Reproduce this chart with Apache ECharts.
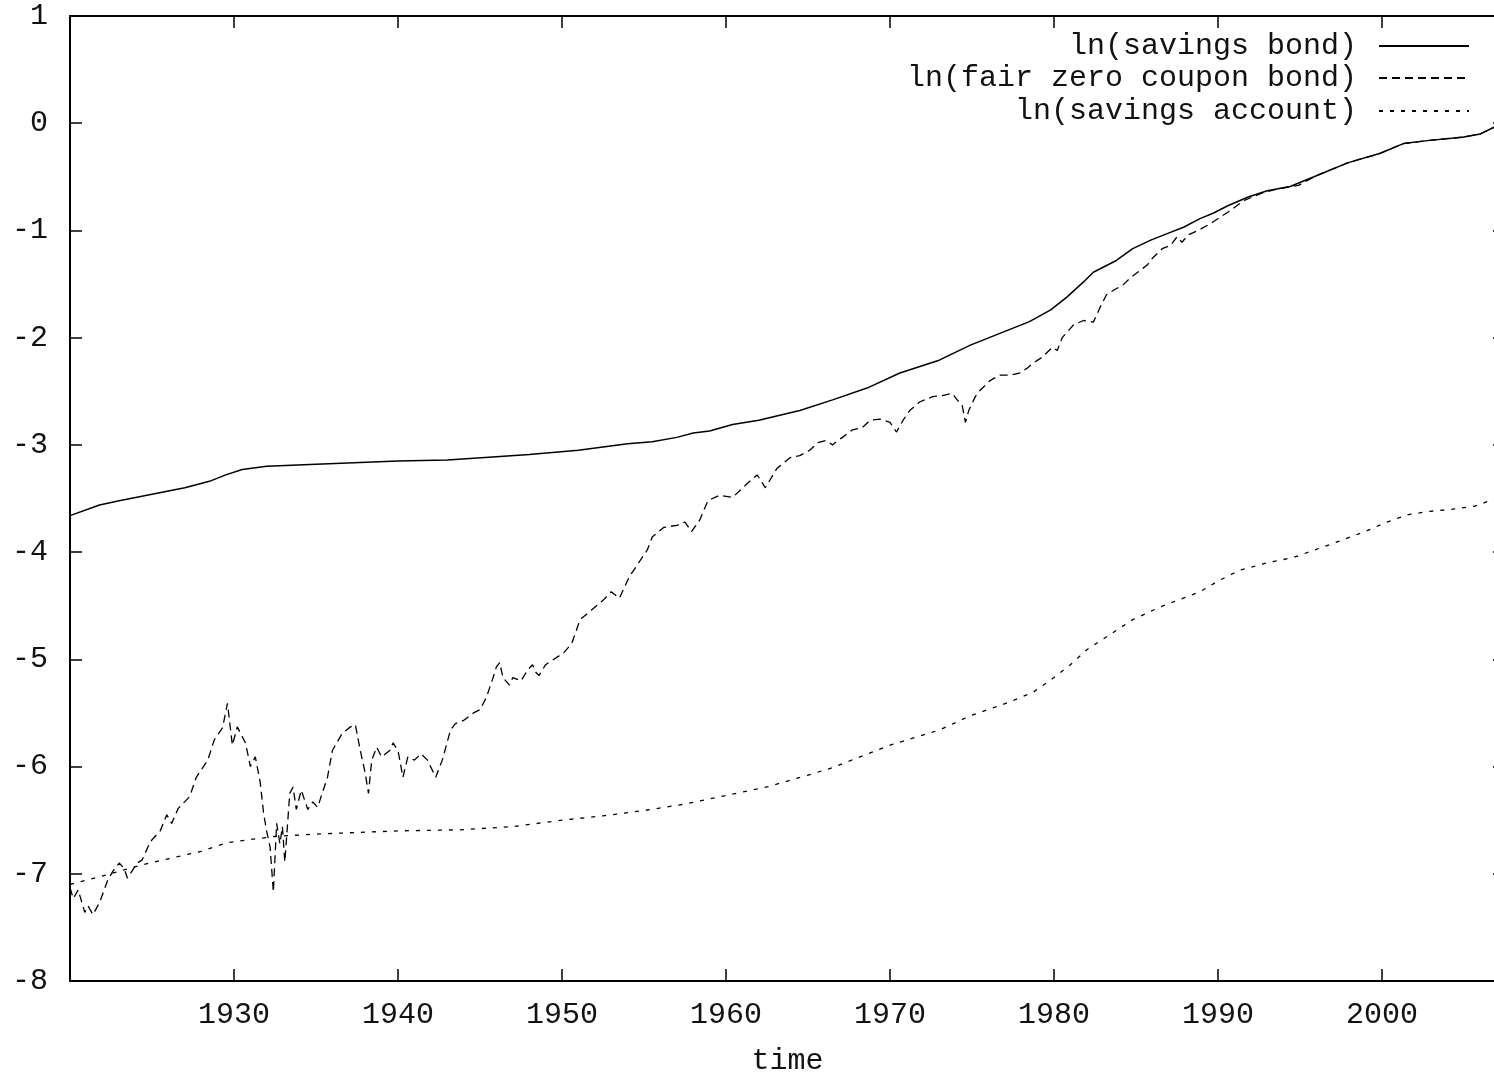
<!DOCTYPE html>
<html>
<head>
<meta charset="utf-8">
<script src="https://cdn.jsdelivr.net/npm/echarts@6/dist/echarts.min.js"></script>
<style>
html,body{margin:0;padding:0;background:#fff;}
#chart{width:1494px;height:1075px;}
</style>
</head>
<body>
<div id="chart"></div>
<script>
// ---- data ----
const xTicks = [1930, 1940, 1950, 1960, 1970, 1980, 1990, 2000];
const yTicks = [-8, -7, -6, -5, -4, -3, -2, -1, 0, 1];

const bondYears = [1920.0, 1921.8, 1923.0, 1925.0, 1927.0, 1928.5, 1929.5, 1930.5, 1932.0, 1935.0, 1940.0, 1943.0, 1946.0, 1948.0, 1951.0, 1954.0, 1955.5, 1957.0, 1958.0, 1959.0, 1960.4, 1962.0, 1964.5, 1966.5, 1968.6, 1970.6, 1973.0, 1974.9, 1976.7, 1978.5, 1979.8, 1980.8, 1981.8, 1982.4, 1983.8, 1984.8, 1985.9, 1986.9, 1987.9, 1988.9, 1989.7, 1990.6, 1991.8, 1993.0, 1994.4, 1996.0, 1997.9, 1999.9, 2001.3, 2002.9, 2004.9, 2006.0, 2006.8, 2007.5];
const bondValues = [-3.66, -3.56, -3.52, -3.46, -3.40, -3.34, -3.28, -3.23, -3.20, -3.18, -3.15, -3.14, -3.11, -3.09, -3.05, -2.99, -2.97, -2.93, -2.89, -2.87, -2.81, -2.77, -2.68, -2.58, -2.47, -2.33, -2.21, -2.07, -1.96, -1.85, -1.74, -1.62, -1.48, -1.39, -1.28, -1.17, -1.09, -1.03, -0.97, -0.89, -0.84, -0.77, -0.69, -0.63, -0.59, -0.49, -0.37, -0.28, -0.19, -0.16, -0.13, -0.10, -0.04, -0.02];

const zeroYears = [1920.0, 1920.2, 1920.5, 1920.9, 1921.1, 1921.4, 1921.8, 1922.3, 1922.6, 1923.0, 1923.3, 1923.5, 1924.1, 1924.4, 1924.9, 1925.5, 1925.9, 1926.2, 1926.6, 1927.3, 1927.7, 1928.4, 1928.8, 1929.3, 1929.6, 1929.9, 1930.2, 1930.7, 1931.0, 1931.3, 1931.6, 1931.8, 1932.0, 1932.2, 1932.4, 1932.6, 1932.8, 1932.95, 1933.1, 1933.4, 1933.6, 1933.8, 1934.1, 1934.5, 1934.8, 1935.1, 1935.7, 1936.0, 1936.6, 1937.1, 1937.4, 1937.7, 1938.0, 1938.2, 1938.4, 1938.7, 1939.0, 1939.5, 1939.7, 1940.0, 1940.3, 1940.6, 1941.0, 1941.4, 1941.8, 1942.3, 1942.7, 1943.2, 1943.5, 1944.0, 1944.6, 1945.0, 1945.4, 1945.8, 1946.0, 1946.2, 1946.4, 1946.8, 1947.0, 1947.5, 1947.9, 1948.2, 1948.4, 1948.6, 1949.0, 1950.1, 1950.6, 1951.1, 1951.8, 1952.5, 1953.0, 1953.5, 1954.1, 1954.5, 1955.2, 1955.5, 1956.2, 1957.0, 1957.5, 1957.9, 1958.4, 1958.9, 1959.6, 1960.4, 1961.3, 1961.9, 1962.4, 1963.1, 1963.9, 1964.5, 1965.1, 1965.6, 1966.1, 1966.5, 1966.8, 1967.1, 1967.7, 1968.3, 1968.8, 1969.4, 1970.0, 1970.4, 1970.8, 1971.2, 1971.8, 1972.6, 1973.2, 1973.8, 1974.1, 1974.4, 1974.6, 1974.8, 1975.2, 1975.5, 1976.1, 1976.7, 1977.3, 1977.9, 1978.4, 1978.7, 1979.3, 1979.9, 1980.2, 1980.5, 1981.2, 1981.8, 1982.4, 1982.8, 1983.2, 1983.6, 1984.2, 1984.6, 1985.1, 1985.7, 1986.0, 1986.6, 1987.1, 1987.5, 1987.8, 1988.2, 1988.8, 1989.6, 1990.6, 1991.6, 1992.7, 1993.7, 1994.9, 1996.0, 1997.9, 1999.9, 2001.3, 2002.9, 2004.9, 2006.0, 2006.8, 2007.5];
const zeroValues = [-7.13, -7.23, -7.15, -7.36, -7.30, -7.38, -7.27, -7.06, -6.98, -6.90, -6.95, -7.04, -6.90, -6.87, -6.70, -6.60, -6.45, -6.53, -6.39, -6.28, -6.10, -5.94, -5.75, -5.64, -5.41, -5.80, -5.63, -5.78, -6.00, -5.91, -6.15, -6.43, -6.61, -6.75, -7.17, -6.53, -6.72, -6.56, -6.89, -6.25, -6.19, -6.40, -6.22, -6.40, -6.33, -6.38, -6.10, -5.85, -5.69, -5.63, -5.61, -5.85, -6.06, -6.25, -5.94, -5.82, -5.91, -5.85, -5.78, -5.85, -6.10, -5.91, -5.94, -5.88, -5.94, -6.10, -5.94, -5.66, -5.60, -5.57, -5.50, -5.47, -5.35, -5.17, -5.07, -5.03, -5.17, -5.24, -5.17, -5.20, -5.10, -5.05, -5.12, -5.15, -5.05, -4.94, -4.85, -4.63, -4.54, -4.45, -4.37, -4.43, -4.23, -4.14, -3.98, -3.86, -3.77, -3.75, -3.72, -3.81, -3.70, -3.52, -3.47, -3.49, -3.36, -3.28, -3.40, -3.22, -3.12, -3.10, -3.05, -2.98, -2.96, -3.00, -2.96, -2.93, -2.86, -2.84, -2.77, -2.76, -2.79, -2.88, -2.77, -2.68, -2.60, -2.55, -2.54, -2.52, -2.58, -2.63, -2.79, -2.68, -2.55, -2.49, -2.40, -2.35, -2.35, -2.33, -2.28, -2.24, -2.18, -2.09, -2.12, -2.00, -1.88, -1.84, -1.855, -1.72, -1.60, -1.56, -1.51, -1.45, -1.39, -1.32, -1.26, -1.17, -1.14, -1.06, -1.11, -1.04, -1.00, -0.93, -0.83, -0.72, -0.65, -0.61, -0.58, -0.49, -0.37, -0.28, -0.19, -0.16, -0.13, -0.10, -0.04, -0.02];

const accountYears = [1920.0, 1922.0, 1924.3, 1926.0, 1928.0, 1929.6, 1931.0, 1932.6, 1935.0, 1940.0, 1943.8, 1947.0, 1950.0, 1952.5, 1955.0, 1957.5, 1960.0, 1962.5, 1965.0, 1966.5, 1968.0, 1970.0, 1971.5, 1973.0, 1975.0, 1976.9, 1978.7, 1980.0, 1981.0, 1982.0, 1984.8, 1986.5, 1988.9, 1990.0, 1991.3, 1993.0, 1994.6, 1997.0, 1999.1, 2000.3, 2001.6, 2002.9, 2004.3, 2005.7, 2006.4, 2007.5];
const accountValues = [-7.10, -7.02, -6.92, -6.86, -6.79, -6.71, -6.68, -6.65, -6.63, -6.60, -6.59, -6.56, -6.50, -6.46, -6.41, -6.35, -6.27, -6.19, -6.08, -6.01, -5.92, -5.80, -5.73, -5.66, -5.52, -5.42, -5.31, -5.17, -5.05, -4.91, -4.63, -4.51, -4.37, -4.27, -4.17, -4.10, -4.05, -3.92, -3.80, -3.72, -3.65, -3.62, -3.60, -3.57, -3.53, -3.49];

const seriesNames = ['ln(savings bond)', 'ln(fair zero coupon bond)', 'ln(savings account)'];
const axisTitle = 'time';

// ---- chart ----
const pair = (xs, ys) => xs.map((x, i) => [x, ys[i]]);
const FONT = '"Liberation Mono", "DejaVu Sans Mono", monospace';
const TXT = '#111';
const FS = 30;

const chart = echarts.init(document.getElementById('chart'), null, {renderer: 'canvas'});

const xBase = {
  type: 'value', min: 1920, max: 2007.5, interval: 10,
  splitLine: {show: false},
  axisLine: {show: true, onZero: false, lineStyle: {color: '#000', width: 2}},
  axisTick: {show: true, inside: true, length: 12, lineStyle: {color: '#000', width: 1.5}}
};
const yBase = {
  type: 'value', min: -8, max: 1, interval: 1,
  splitLine: {show: false},
  axisLine: {show: true, onZero: false, lineStyle: {color: '#000', width: 2}},
  axisTick: {show: true, inside: true, length: 12, lineStyle: {color: '#000', width: 1.5}}
};

function legendFor(name, top) {
  return {
    data: [name], right: 24, top: top, orient: 'horizontal', align: 'right',
    itemWidth: 90, itemHeight: 14, padding: 0,
    itemStyle: {opacity: 0, borderWidth: 0},
    textStyle: {fontFamily: FONT, fontSize: FS, color: TXT, lineHeight: 30, padding: [0, 17, 0, 0]},
    selectedMode: false
  };
}

chart.setOption({
  animation: false,
  backgroundColor: '#fff',
  grid: {left: 70, top: 16, right: -11, bottom: 94, containLabel: false, outerBoundsMode: 'none'},
  legend: [legendFor(seriesNames[0], 31), legendFor(seriesNames[1], 63), legendFor(seriesNames[2], 96)],
  xAxis: [
    Object.assign({}, xBase, {
      position: 'bottom', name: axisTitle, nameLocation: 'middle', nameGap: 65,
      nameTextStyle: {fontFamily: FONT, fontSize: FS, color: TXT},
      axisLabel: {show: true, margin: 19, fontFamily: FONT, fontSize: FS, color: TXT,
        showMinLabel: false, showMaxLabel: false,
        formatter: v => xTicks.indexOf(v) >= 0 ? String(v) : ''}
    }),
    Object.assign({}, xBase, {position: 'top', axisLabel: {show: false}})
  ],
  yAxis: [
    Object.assign({}, yBase, {
      position: 'left',
      axisLabel: {show: true, margin: 22, fontFamily: FONT, fontSize: FS, color: TXT,
        formatter: v => yTicks.indexOf(v) >= 0 ? String(v) : ''}
    }),
    Object.assign({}, yBase, {position: 'right', axisLabel: {show: false}})
  ],
  series: [
    {name: seriesNames[0], type: 'line', xAxisIndex: 0, yAxisIndex: 0, symbol: 'none', smooth: false,
     data: pair(bondYears, bondValues), lineStyle: {color: '#000', width: 1.5, type: 'solid'}, itemStyle: {color: '#000'}},
    {name: seriesNames[1], type: 'line', xAxisIndex: 0, yAxisIndex: 0, symbol: 'none', smooth: false,
     data: pair(zeroYears, zeroValues), lineStyle: {color: '#000', width: 1.3, type: [8, 5]}, itemStyle: {color: '#000'}},
    {name: seriesNames[2], type: 'line', xAxisIndex: 0, yAxisIndex: 0, symbol: 'none', smooth: false,
     data: pair(accountYears, accountValues), lineStyle: {color: '#000', width: 1.3, type: [4, 7]}, itemStyle: {color: '#000'}}
  ]
});
</script>
</body>
</html>
